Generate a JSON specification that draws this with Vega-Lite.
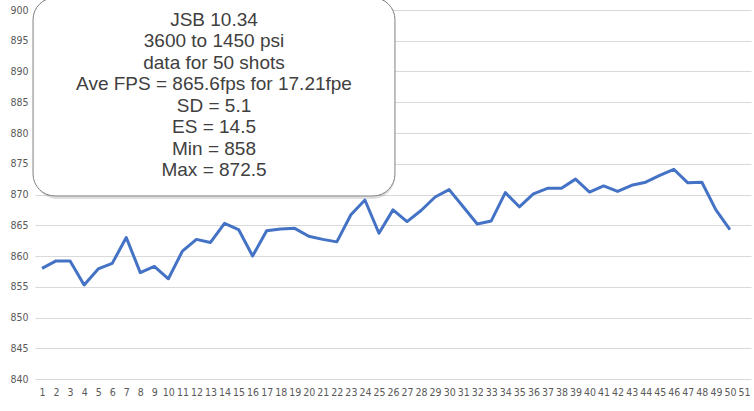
{
  "$schema": "https://vega.github.io/schema/vega-lite/v6.json",
  "width": 716,
  "height": 369,
  "autosize": "none",
  "padding": {"left": 35, "top": 10, "right": 3, "bottom": 32},
  "background": "white",
  "config": {
    "view": {"stroke": null},
    "axis": {"labelColor": "#595959", "labelFont": "Liberation Sans Narrow, DejaVu Sans Condensed, sans-serif", "labelFontSize": 10.5, "domain": false, "ticks": false, "title": null}
  },
  "layer": [
    {
      "data": {"values": [
        {"shot": 1, "fps": 858.0}, {"shot": 2, "fps": 859.2}, {"shot": 3, "fps": 859.2}, {"shot": 4, "fps": 855.3},
        {"shot": 5, "fps": 857.9}, {"shot": 6, "fps": 858.8}, {"shot": 7, "fps": 863.0}, {"shot": 8, "fps": 857.3},
        {"shot": 9, "fps": 858.3}, {"shot": 10, "fps": 856.3}, {"shot": 11, "fps": 860.8}, {"shot": 12, "fps": 862.7},
        {"shot": 13, "fps": 862.2}, {"shot": 14, "fps": 865.3}, {"shot": 15, "fps": 864.3}, {"shot": 16, "fps": 860.0},
        {"shot": 17, "fps": 864.1}, {"shot": 18, "fps": 864.4}, {"shot": 19, "fps": 864.5}, {"shot": 20, "fps": 863.2},
        {"shot": 21, "fps": 862.7}, {"shot": 22, "fps": 862.3}, {"shot": 23, "fps": 866.7}, {"shot": 24, "fps": 869.1},
        {"shot": 25, "fps": 863.7}, {"shot": 26, "fps": 867.5}, {"shot": 27, "fps": 865.6}, {"shot": 28, "fps": 867.4},
        {"shot": 29, "fps": 869.6}, {"shot": 30, "fps": 870.8}, {"shot": 31, "fps": 868.0}, {"shot": 32, "fps": 865.2},
        {"shot": 33, "fps": 865.7}, {"shot": 34, "fps": 870.3}, {"shot": 35, "fps": 868.0}, {"shot": 36, "fps": 870.1},
        {"shot": 37, "fps": 871.0}, {"shot": 38, "fps": 871.0}, {"shot": 39, "fps": 872.5}, {"shot": 40, "fps": 870.4},
        {"shot": 41, "fps": 871.4}, {"shot": 42, "fps": 870.5}, {"shot": 43, "fps": 871.5}, {"shot": 44, "fps": 872.0},
        {"shot": 45, "fps": 873.1}, {"shot": 46, "fps": 874.1}, {"shot": 47, "fps": 871.9}, {"shot": 48, "fps": 872.0},
        {"shot": 49, "fps": 867.5}, {"shot": 50, "fps": 864.3}
      ]},
      "mark": {"type": "line", "color": "#4472C4", "strokeWidth": 3, "strokeJoin": "round"},
      "encoding": {
        "x": {"field": "shot", "type": "quantitative", "scale": {"domain": [0.5, 51.5], "nice": false},
          "axis": {"values": [1,2,3,4,5,6,7,8,9,10,11,12,13,14,15,16,17,18,19,20,21,22,23,24,25,26,27,28,29,30,31,32,33,34,35,36,37,38,39,40,41,42,43,44,45,46,47,48,49,50,51],
            "grid": false, "labelAngle": 0, "labelFlush": false, "labelOverlap": false, "labelPadding": 8}},
        "y": {"field": "fps", "type": "quantitative", "scale": {"domain": [840, 900], "nice": false, "zero": false},
          "axis": {"values": [840, 845, 850, 855, 860, 865, 870, 875, 880, 885, 890, 895, 900], "gridColor": "#d9d9d9", "gridWidth": 1, "labelOverlap": false, "labelPadding": 7}}
      }
    },
    {
      "data": {"values": [{"box": "stats"}]},
      "mark": {"type": "rect", "fill": "#000000", "opacity": 0.12, "cornerRadius": 22, "xOffset": 2, "yOffset": 3},
      "encoding": {
        "x": {"datum": 0.36, "type": "quantitative",
          "axis": {"values": [1,2,3,4,5,6,7,8,9,10,11,12,13,14,15,16,17,18,19,20,21,22,23,24,25,26,27,28,29,30,31,32,33,34,35,36,37,38,39,40,41,42,43,44,45,46,47,48,49,50,51],
            "grid": false, "labelAngle": 0, "labelFlush": false, "labelOverlap": false, "labelPadding": 8}},
        "x2": {"datum": 26.14},
        "y": {"datum": 869.76, "type": "quantitative",
          "axis": {"values": [840, 845, 850, 855, 860, 865, 870, 875, 880, 885, 890, 895, 900], "gridColor": "#d9d9d9", "gridWidth": 1, "labelOverlap": false, "labelPadding": 7}},
        "y2": {"datum": 902}
      }
    },
    {
      "data": {"values": [{"box": "stats"}]},
      "mark": {"type": "rect", "fill": "white", "stroke": "#7f7f7f", "strokeWidth": 1, "cornerRadius": 22},
      "encoding": {
        "x": {"datum": 0.36, "type": "quantitative",
          "axis": {"values": [1,2,3,4,5,6,7,8,9,10,11,12,13,14,15,16,17,18,19,20,21,22,23,24,25,26,27,28,29,30,31,32,33,34,35,36,37,38,39,40,41,42,43,44,45,46,47,48,49,50,51],
            "grid": false, "labelAngle": 0, "labelFlush": false, "labelOverlap": false, "labelPadding": 8}},
        "x2": {"datum": 26.14},
        "y": {"datum": 869.76, "type": "quantitative",
          "axis": {"values": [840, 845, 850, 855, 860, 865, 870, 875, 880, 885, 890, 895, 900], "gridColor": "#d9d9d9", "gridWidth": 1, "labelOverlap": false, "labelPadding": 7}},
        "y2": {"datum": 902}
      }
    },
    {
      "data": {"values": [{"label": "JSB 10.34\n3600 to 1450 psi\ndata for 50 shots\nAve FPS = 865.6fps for 17.21fpe\nSD = 5.1\nES = 14.5\nMin = 858\nMax = 872.5"}]},
      "mark": {"type": "text", "font": "Liberation Sans", "fontSize": 19, "color": "#404040", "align": "center", "baseline": "middle", "lineBreak": "\n", "lineHeight": 21.5},
      "encoding": {
        "x": {"datum": 13.25, "type": "quantitative",
          "axis": {"values": [1,2,3,4,5,6,7,8,9,10,11,12,13,14,15,16,17,18,19,20,21,22,23,24,25,26,27,28,29,30,31,32,33,34,35,36,37,38,39,40,41,42,43,44,45,46,47,48,49,50,51],
            "grid": false, "labelAngle": 0, "labelFlush": false, "labelOverlap": false, "labelPadding": 8}},
        "y": {"datum": 898.4, "type": "quantitative",
          "axis": {"values": [840, 845, 850, 855, 860, 865, 870, 875, 880, 885, 890, 895, 900], "gridColor": "#d9d9d9", "gridWidth": 1, "labelOverlap": false, "labelPadding": 7}},
        "text": {"field": "label"}
      }
    }
  ]
}
